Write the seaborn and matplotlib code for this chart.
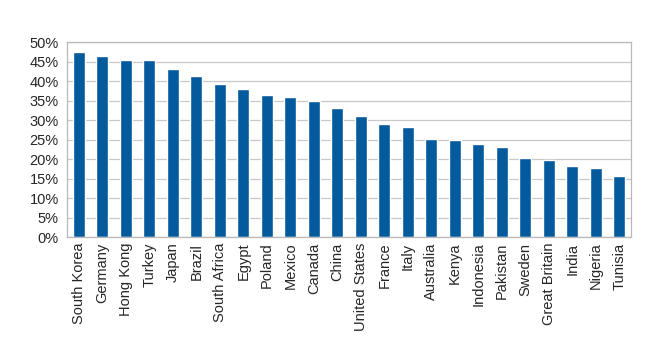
import pandas as pd
import matplotlib.pyplot as plt
import seaborn as sns
from matplotlib.ticker import FixedLocator, PercentFormatter

countries = ['South Korea', 'Germany', 'Hong Kong', 'Turkey', 'Japan', 'Brazil',
             'South Africa', 'Egypt', 'Poland', 'Mexico', 'Canada', 'China',
             'United States', 'France', 'Italy', 'Australia', 'Kenya', 'Indonesia',
             'Pakistan', 'Sweden', 'Great Britain', 'India', 'Nigeria', 'Tunisia']
shares = [47.4, 46.5, 45.3, 45.3, 43.0, 41.3, 39.2, 37.9, 36.4, 36.0, 35.0, 33.2,
          31.1, 28.9, 28.2, 25.2, 24.9, 23.8, 23.2, 20.2, 19.7, 18.3, 17.8, 15.7]

df = pd.DataFrame({'country': countries, 'share': shares})

sns.set_style('white')
plt.rcParams['font.family'] = ['Liberation Sans', 'DejaVu Sans']

fig = plt.figure(figsize=(6.48, 3.56), dpi=100)
ax = fig.add_axes([0.1034, 0.334, 0.8704, 0.548])
sns.barplot(data=df, x='country', y='share', color='#035a9c', saturation=1,
            width=0.5, ax=ax)

ax.set_ylim(0, 50)
ax.set_xlim(-0.5, len(countries) - 0.5)
ax.set_yticks(range(0, 51, 5))
ax.yaxis.set_major_formatter(PercentFormatter(decimals=0))
ax.grid(axis='y', color='#c8c8c8', linewidth=0.9)
ax.set_axisbelow(True)
ax.set_xlabel('')
ax.set_ylabel('')

for s in ax.spines.values():
    s.set_color('#b8b8b8')
    s.set_linewidth(0.9)

ax.tick_params(axis='x', which='major', length=0, labelrotation=90,
               labelsize=10.5, pad=4)
ax.xaxis.set_minor_locator(FixedLocator([i - 0.5 for i in range(len(countries) + 1)]))
ax.tick_params(axis='x', which='minor', length=5, color='#b8b8b8', width=0.9)
ax.tick_params(axis='y', length=4, color='#b8b8b8', width=0.9, labelsize=10.5, pad=2)

fig.savefig('out.png', dpi=100)
